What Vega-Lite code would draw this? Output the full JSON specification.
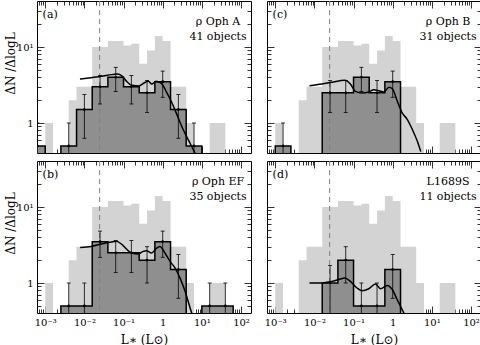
{
"$schema": "https://vega.github.io/schema/vega-lite/v6.json",
"padding": {"left": 3, "top": 0, "right": 0, "bottom": 0},
"background": "white",
"datasets": {
"light": [{"x":0.001,"v":1},{"x":0.001585,"v":0.3},{"x":0.003981,"v":2},{"x":0.00631,"v":3},{"x":0.01585,"v":10},{"x":0.03981,"v":12},{"x":0.1,"v":10.5},{"x":0.1585,"v":11},{"x":0.2512,"v":6},{"x":0.3981,"v":9},{"x":0.631,"v":14},{"x":1,"v":12},{"x":1.585,"v":3},{"x":3.981,"v":1},{"x":6.31,"v":0.3},{"x":15.85,"v":1},{"x":39.81,"v":0.3}],
"dark": [
{"p":"a","i":0,"x":0.000398,"v":0.3},{"p":"a","i":1,"x":0.000398,"v":0.5},{"p":"a","i":2,"x":0.001,"v":0.3},{"p":"a","i":3,"x":0.002512,"v":0.5},{"p":"a","i":4,"x":0.00631,"v":1.5},{"p":"a","i":5,"x":0.01585,"v":3},{"p":"a","i":6,"x":0.03981,"v":4},{"p":"a","i":7,"x":0.1,"v":3},{"p":"a","i":8,"x":0.2512,"v":2.5},{"p":"a","i":9,"x":0.631,"v":3.5},{"p":"a","i":10,"x":1.585,"v":1.5},{"p":"a","i":11,"x":3.981,"v":0.5},{"p":"a","i":12,"x":10,"v":0.3},
{"p":"b","i":0,"x":0.002512,"v":0.3},{"p":"b","i":1,"x":0.002512,"v":0.5},{"p":"b","i":2,"x":0.00631,"v":0.5},{"p":"b","i":3,"x":0.01585,"v":3.5},{"p":"b","i":4,"x":0.03981,"v":2.5},{"p":"b","i":5,"x":0.1,"v":2.5},{"p":"b","i":6,"x":0.2512,"v":2},{"p":"b","i":7,"x":0.631,"v":3.5},{"p":"b","i":8,"x":1.585,"v":1.5},{"p":"b","i":9,"x":3.981,"v":0.3},{"p":"b","i":10,"x":10,"v":0.5},{"p":"b","i":11,"x":25.12,"v":0.5},{"p":"b","i":12,"x":63.1,"v":0.3},
{"p":"c","i":0,"x":0.001,"v":0.3},{"p":"c","i":1,"x":0.001,"v":0.5},{"p":"c","i":2,"x":0.002512,"v":0.3},{"p":"c","i":3,"x":0.01585,"v":2.5},{"p":"c","i":4,"x":0.03981,"v":2.5},{"p":"c","i":5,"x":0.1,"v":4},{"p":"c","i":6,"x":0.2512,"v":2.5},{"p":"c","i":7,"x":0.631,"v":3.5},{"p":"c","i":8,"x":1.585,"v":0.3},
{"p":"d","i":0,"x":0.01585,"v":0.3},{"p":"d","i":1,"x":0.01585,"v":1},{"p":"d","i":2,"x":0.03981,"v":2},{"p":"d","i":3,"x":0.1,"v":0.5},{"p":"d","i":4,"x":0.2512,"v":0.5},{"p":"d","i":5,"x":0.631,"v":1.5},{"p":"d","i":6,"x":1.585,"v":0.3}],
"err": [
{"p":"a","x":0.000631,"v":0.5,"lo":0.05,"hi":1},{"p":"a","x":0.003981,"v":0.5,"lo":0.05,"hi":1},{"p":"a","x":0.01,"v":1.5,"lo":0.63,"hi":2.37},{"p":"a","x":0.02512,"v":3,"lo":1.78,"hi":4.22},{"p":"a","x":0.0631,"v":4,"lo":2.59,"hi":5.41},{"p":"a","x":0.1585,"v":3,"lo":1.78,"hi":4.22},{"p":"a","x":0.3981,"v":2.5,"lo":1.38,"hi":3.62},{"p":"a","x":1,"v":3.5,"lo":2.18,"hi":4.82},{"p":"a","x":2.512,"v":1.5,"lo":0.63,"hi":2.37},{"p":"a","x":6.31,"v":0.5,"lo":0.05,"hi":1},
{"p":"b","x":0.003981,"v":0.5,"lo":0.05,"hi":1},{"p":"b","x":0.01,"v":0.5,"lo":0.05,"hi":1},{"p":"b","x":0.02512,"v":3.5,"lo":2.18,"hi":4.82},{"p":"b","x":0.0631,"v":2.5,"lo":1.38,"hi":3.62},{"p":"b","x":0.1585,"v":2.5,"lo":1.38,"hi":3.62},{"p":"b","x":0.3981,"v":2,"lo":1,"hi":3},{"p":"b","x":1,"v":3.5,"lo":2.18,"hi":4.82},{"p":"b","x":2.512,"v":1.5,"lo":0.63,"hi":2.37},{"p":"b","x":15.85,"v":0.5,"lo":0.05,"hi":1},{"p":"b","x":39.81,"v":0.5,"lo":0.05,"hi":1},
{"p":"c","x":0.001585,"v":0.5,"lo":0.05,"hi":1},{"p":"c","x":0.02512,"v":2.5,"lo":1.38,"hi":3.62},{"p":"c","x":0.0631,"v":2.5,"lo":1.38,"hi":3.62},{"p":"c","x":0.1585,"v":4,"lo":2.59,"hi":5.41},{"p":"c","x":0.3981,"v":2.5,"lo":1.38,"hi":3.62},{"p":"c","x":1,"v":3.5,"lo":2.18,"hi":4.82},
{"p":"d","x":0.02512,"v":1,"lo":0.29,"hi":1.71},{"p":"d","x":0.0631,"v":2,"lo":1,"hi":3},{"p":"d","x":0.1585,"v":0.5,"lo":0.05,"hi":1},{"p":"d","x":0.3981,"v":0.5,"lo":0.05,"hi":1},{"p":"d","x":1,"v":1.5,"lo":0.63,"hi":2.37}],
"curve": [
{"p":"a","x":0.007709,"v":3.79},{"p":"a","x":0.01493,"v":3.95},{"p":"a","x":0.02723,"v":4.11},{"p":"a","x":0.04966,"v":4.33},{"p":"a","x":0.06699,"v":4.41},{"p":"a","x":0.0869,"v":4.24},{"p":"a","x":0.1151,"v":3.61},{"p":"a","x":0.1648,"v":3.13},{"p":"a","x":0.246,"v":3.07},{"p":"a","x":0.3327,"v":3.36},{"p":"a","x":0.4315,"v":3.53},{"p":"a","x":0.5272,"v":3.26},{"p":"a","x":0.6699,"v":3.53},{"p":"a","x":0.9057,"v":3.36},{"p":"a","x":1.222,"v":2.61},{"p":"a","x":1.648,"v":1.93},{"p":"a","x":2.228,"v":1.35},{"p":"a","x":3.327,"v":0.82},{"p":"a","x":4.966,"v":0.545},{"p":"a","x":6.699,"v":0.4},
{"p":"b","x":0.00778,"v":2.94},{"p":"b","x":0.01489,"v":3.03},{"p":"b","x":0.02692,"v":3.26},{"p":"b","x":0.04864,"v":3.46},{"p":"b","x":0.06546,"v":3.53},{"p":"b","x":0.0879,"v":3.26},{"p":"b","x":0.1183,"v":2.8},{"p":"b","x":0.1589,"v":2.48},{"p":"b","x":0.236,"v":2.41},{"p":"b","x":0.317,"v":2.61},{"p":"b","x":0.3864,"v":2.66},{"p":"b","x":0.5188,"v":2.48},{"p":"b","x":0.6982,"v":2.88},{"p":"b","x":0.8492,"v":3.03},{"p":"b","x":1.143,"v":2.48},{"p":"b","x":1.535,"v":1.93},{"p":"b","x":2.065,"v":1.58},{"p":"b","x":2.773,"v":1.16},{"p":"b","x":3.733,"v":0.78},{"p":"b","x":5.012,"v":0.47},{"p":"b","x":5.534,"v":0.4},
{"p":"c","x":0.00748,"v":3.1},{"p":"c","x":0.01552,"v":3.26},{"p":"c","x":0.02805,"v":3.43},{"p":"c","x":0.05929,"v":3.64},{"p":"c","x":0.08299,"v":3.26},{"p":"c","x":0.1114,"v":2.61},{"p":"c","x":0.1652,"v":2.48},{"p":"c","x":0.2455,"v":2.56},{"p":"c","x":0.3296,"v":2.74},{"p":"c","x":0.4436,"v":2.66},{"p":"c","x":0.5957,"v":2.56},{"p":"c","x":0.8017,"v":2.95},{"p":"c","x":0.975,"v":2.83},{"p":"c","x":1.312,"v":1.93},{"p":"c","x":1.762,"v":1.35},{"p":"c","x":2.371,"v":1.11},{"p":"c","x":3.184,"v":0.82},{"p":"c","x":4.285,"v":0.57},{"p":"c","x":5.212,"v":0.42},
{"p":"d","x":0.00748,"v":1},{"p":"d","x":0.01552,"v":1},{"p":"d","x":0.02805,"v":1.05},{"p":"d","x":0.04592,"v":1.13},{"p":"d","x":0.05929,"v":1.16},{"p":"d","x":0.08299,"v":1.05},{"p":"d","x":0.123,"v":0.86},{"p":"d","x":0.1652,"v":0.79},{"p":"d","x":0.2455,"v":0.84},{"p":"d","x":0.3639,"v":0.97},{"p":"d","x":0.4887,"v":0.84},{"p":"d","x":0.7261,"v":0.93},{"p":"d","x":0.975,"v":0.82},{"p":"d","x":1.312,"v":0.6},{"p":"d","x":1.596,"v":0.49},{"p":"d","x":1.945,"v":0.4}],
"cut": [{"L":0.0245}],
"labels": [{"p":"a","tag":"(a)","name":"ρ Oph A","count":"41 objects"},{"p":"b","tag":"(b)","name":"ρ Oph EF","count":"35 objects"},{"p":"c","tag":"(c)","name":"ρ Oph B","count":"31 objects"},{"p":"d","tag":"(d)","name":"L1689S","count":"11 objects"}]
},
"columns": 2,
"spacing": {"row": 6, "column": 12},
"concat": [
{"width":214,"height":152,"layer":[
 {"data":{"name":"light"},"mark":{"type":"area","interpolate":"step-after","color":"#d3d3d3","clip":true},
  "encoding":{"x":{"field":"x","type":"quantitative","scale":{"type":"log","domain":[0.000616,180],"nice":false},
     "axis":{"orient":"bottom","values":[0.0007,0.0008,0.0009,0.001,0.002,0.003,0.004,0.005,0.006,0.007,0.008,0.009,0.01,0.02,0.03,0.04,0.05,0.06,0.07,0.08,0.09,0.1,0.2,0.3,0.4,0.5,0.6,0.7,0.8,0.9,1,2,3,4,5,6,7,8,9,10,20,30,40,50,60,70,80,90,100],"labels":false,"title":null,"tickSize":{"condition":{"test":"abs(log(datum.value)/LN10 - round(log(datum.value)/LN10)) < 0.01","value":-7},"value":-4}}},
   "y":{"field":"v","type":"quantitative","scale":{"type":"log","domain":[0.403,40.3],"nice":false},
     "axis":{"orient":"left","values":[0.5,0.6,0.7,0.8,0.9,1,2,3,4,5,6,7,8,9,10,20,30],"labelExpr":"abs(log(datum.value)/LN10 - round(log(datum.value)/LN10)) > 0.01 ? '' : round(log(datum.value)/LN10) == 0 ? '1' : '10¹'","labelPadding":11,"title":"ΔN /ΔlogL","titleX":-27,"titleY":62,"titleBaseline":"middle","tickSize":{"condition":{"test":"abs(log(datum.value)/LN10 - round(log(datum.value)/LN10)) < 0.01","value":-7},"value":-4}}},
   "y2":{"datum":0.3}}},
 {"data":{"name":"dark"},"transform":[{"filter":"datum.p=='a' && datum.i>0"}],"mark":{"type":"area","interpolate":"step-after","color":"#8f8f8f","clip":true},
  "encoding":{"x":{"field":"x","type":"quantitative","axis":{"orient":"top","values":[0.0007,0.0008,0.0009,0.001,0.002,0.003,0.004,0.005,0.006,0.007,0.008,0.009,0.01,0.02,0.03,0.04,0.05,0.06,0.07,0.08,0.09,0.1,0.2,0.3,0.4,0.5,0.6,0.7,0.8,0.9,1,2,3,4,5,6,7,8,9,10,20,30,40,50,60,70,80,90,100],"labels":false,"title":null,"tickSize":{"condition":{"test":"abs(log(datum.value)/LN10 - round(log(datum.value)/LN10)) < 0.01","value":-7},"value":-4}}},
   "y":{"field":"v","type":"quantitative","axis":{"orient":"right","values":[0.5,0.6,0.7,0.8,0.9,1,2,3,4,5,6,7,8,9,10,20,30],"labels":false,"title":null,"tickSize":{"condition":{"test":"abs(log(datum.value)/LN10 - round(log(datum.value)/LN10)) < 0.01","value":-7},"value":-4}}},
   "y2":{"datum":0.3}}},
 {"data":{"name":"cut"},"mark":{"type":"rule","color":"#7f7f7f","strokeDash":[5,4],"strokeWidth":1},"encoding":{"x":{"field":"L","type":"quantitative","axis":null}}},
 {"data":{"name":"dark"},"transform":[{"filter":"datum.p=='a'"}],"mark":{"type":"line","interpolate":"step-after","color":"black","strokeWidth":1.5,"clip":true},"encoding":{"x":{"field":"x","type":"quantitative","axis":null},"y":{"field":"v","type":"quantitative","axis":null},"order":{"field":"i","type":"quantitative"}}},
 {"data":{"name":"err"},"transform":[{"filter":"datum.p=='a'"}],"mark":{"type":"rule","color":"black","strokeWidth":0.8,"clip":true},"encoding":{"x":{"field":"x","type":"quantitative","axis":null},"y":{"field":"lo","type":"quantitative","axis":null},"y2":{"field":"hi"}}},
 {"data":{"name":"err"},"transform":[{"filter":"datum.p=='a'"}],"mark":{"type":"tick","orient":"horizontal","size":4,"thickness":0.8,"color":"black","opacity":1,"clip":true},"encoding":{"x":{"field":"x","type":"quantitative","axis":null},"y":{"field":"lo","type":"quantitative","axis":null}}},
 {"data":{"name":"err"},"transform":[{"filter":"datum.p=='a'"}],"mark":{"type":"tick","orient":"horizontal","size":4,"thickness":0.8,"color":"black","opacity":1,"clip":true},"encoding":{"x":{"field":"x","type":"quantitative","axis":null},"y":{"field":"hi","type":"quantitative","axis":null}}},
 {"data":{"name":"err"},"transform":[{"filter":"datum.p=='a'"}],"mark":{"type":"circle","size":7,"color":"black","opacity":1,"clip":true},"encoding":{"x":{"field":"x","type":"quantitative","axis":null},"y":{"field":"v","type":"quantitative","axis":null}}},
 {"data":{"name":"curve"},"transform":[{"filter":"datum.p=='a'"}],"mark":{"type":"line","interpolate":"monotone","color":"black","strokeWidth":1.5,"clip":true},"encoding":{"x":{"field":"x","type":"quantitative","axis":null},"y":{"field":"v","type":"quantitative","axis":null}}},
 {"data":{"name":"labels"},"transform":[{"filter":"datum.p=='a'"}],"mark":{"type":"text","align":"left","baseline":"middle","fontSize":11,"font":"DejaVu Serif","color":"black"},"encoding":{"x":{"datum":0.000857,"type":"quantitative","axis":null},"y":{"datum":26.5,"type":"quantitative","axis":null},"text":{"field":"tag"}}},
 {"data":{"name":"labels"},"transform":[{"filter":"datum.p=='a'"}],"mark":{"type":"text","align":"center","baseline":"middle","fontSize":11,"font":"DejaVu Serif","color":"black"},"encoding":{"x":{"datum":25.9,"type":"quantitative","axis":null},"y":{"datum":21.5,"type":"quantitative","axis":null},"text":{"field":"name"}}},
 {"data":{"name":"labels"},"transform":[{"filter":"datum.p=='a'"}],"mark":{"type":"text","align":"center","baseline":"middle","fontSize":11,"font":"DejaVu Serif","color":"black"},"encoding":{"x":{"datum":25.9,"type":"quantitative","axis":null},"y":{"datum":13.4,"type":"quantitative","axis":null},"text":{"field":"count"}}}
]},
{"width":214,"height":152,"layer":[
 {"data":{"name":"light"},"mark":{"type":"area","interpolate":"step-after","color":"#d3d3d3","clip":true},
  "encoding":{"x":{"field":"x","type":"quantitative","scale":{"type":"log","domain":[0.000616,180],"nice":false},
     "axis":{"orient":"bottom","values":[0.0007,0.0008,0.0009,0.001,0.002,0.003,0.004,0.005,0.006,0.007,0.008,0.009,0.01,0.02,0.03,0.04,0.05,0.06,0.07,0.08,0.09,0.1,0.2,0.3,0.4,0.5,0.6,0.7,0.8,0.9,1,2,3,4,5,6,7,8,9,10,20,30,40,50,60,70,80,90,100],"labels":false,"title":null,"tickSize":{"condition":{"test":"abs(log(datum.value)/LN10 - round(log(datum.value)/LN10)) < 0.01","value":-7},"value":-4}}},
   "y":{"field":"v","type":"quantitative","scale":{"type":"log","domain":[0.403,40.3],"nice":false},
     "axis":{"orient":"left","values":[0.5,0.6,0.7,0.8,0.9,1,2,3,4,5,6,7,8,9,10,20,30],"labels":false,"title":null,"tickSize":{"condition":{"test":"abs(log(datum.value)/LN10 - round(log(datum.value)/LN10)) < 0.01","value":-7},"value":-4}}},
   "y2":{"datum":0.3}}},
 {"data":{"name":"dark"},"transform":[{"filter":"datum.p=='c' && datum.i>0"}],"mark":{"type":"area","interpolate":"step-after","color":"#8f8f8f","clip":true},
  "encoding":{"x":{"field":"x","type":"quantitative","axis":{"orient":"top","values":[0.0007,0.0008,0.0009,0.001,0.002,0.003,0.004,0.005,0.006,0.007,0.008,0.009,0.01,0.02,0.03,0.04,0.05,0.06,0.07,0.08,0.09,0.1,0.2,0.3,0.4,0.5,0.6,0.7,0.8,0.9,1,2,3,4,5,6,7,8,9,10,20,30,40,50,60,70,80,90,100],"labels":false,"title":null,"tickSize":{"condition":{"test":"abs(log(datum.value)/LN10 - round(log(datum.value)/LN10)) < 0.01","value":-7},"value":-4}}},
   "y":{"field":"v","type":"quantitative","axis":{"orient":"right","values":[0.5,0.6,0.7,0.8,0.9,1,2,3,4,5,6,7,8,9,10,20,30],"labels":false,"title":null,"tickSize":{"condition":{"test":"abs(log(datum.value)/LN10 - round(log(datum.value)/LN10)) < 0.01","value":-7},"value":-4}}},
   "y2":{"datum":0.3}}},
 {"data":{"name":"cut"},"mark":{"type":"rule","color":"#7f7f7f","strokeDash":[5,4],"strokeWidth":1},"encoding":{"x":{"field":"L","type":"quantitative","axis":null}}},
 {"data":{"name":"dark"},"transform":[{"filter":"datum.p=='c'"}],"mark":{"type":"line","interpolate":"step-after","color":"black","strokeWidth":1.5,"clip":true},"encoding":{"x":{"field":"x","type":"quantitative","axis":null},"y":{"field":"v","type":"quantitative","axis":null},"order":{"field":"i","type":"quantitative"}}},
 {"data":{"name":"err"},"transform":[{"filter":"datum.p=='c'"}],"mark":{"type":"rule","color":"black","strokeWidth":0.8,"clip":true},"encoding":{"x":{"field":"x","type":"quantitative","axis":null},"y":{"field":"lo","type":"quantitative","axis":null},"y2":{"field":"hi"}}},
 {"data":{"name":"err"},"transform":[{"filter":"datum.p=='c'"}],"mark":{"type":"tick","orient":"horizontal","size":4,"thickness":0.8,"color":"black","opacity":1,"clip":true},"encoding":{"x":{"field":"x","type":"quantitative","axis":null},"y":{"field":"lo","type":"quantitative","axis":null}}},
 {"data":{"name":"err"},"transform":[{"filter":"datum.p=='c'"}],"mark":{"type":"tick","orient":"horizontal","size":4,"thickness":0.8,"color":"black","opacity":1,"clip":true},"encoding":{"x":{"field":"x","type":"quantitative","axis":null},"y":{"field":"hi","type":"quantitative","axis":null}}},
 {"data":{"name":"err"},"transform":[{"filter":"datum.p=='c'"}],"mark":{"type":"circle","size":7,"color":"black","opacity":1,"clip":true},"encoding":{"x":{"field":"x","type":"quantitative","axis":null},"y":{"field":"v","type":"quantitative","axis":null}}},
 {"data":{"name":"curve"},"transform":[{"filter":"datum.p=='c'"}],"mark":{"type":"line","interpolate":"monotone","color":"black","strokeWidth":1.5,"clip":true},"encoding":{"x":{"field":"x","type":"quantitative","axis":null},"y":{"field":"v","type":"quantitative","axis":null}}},
 {"data":{"name":"labels"},"transform":[{"filter":"datum.p=='c'"}],"mark":{"type":"text","align":"left","baseline":"middle","fontSize":11,"font":"DejaVu Serif","color":"black"},"encoding":{"x":{"datum":0.000857,"type":"quantitative","axis":null},"y":{"datum":26.5,"type":"quantitative","axis":null},"text":{"field":"tag"}}},
 {"data":{"name":"labels"},"transform":[{"filter":"datum.p=='c'"}],"mark":{"type":"text","align":"center","baseline":"middle","fontSize":11,"font":"DejaVu Serif","color":"black"},"encoding":{"x":{"datum":25.9,"type":"quantitative","axis":null},"y":{"datum":21.5,"type":"quantitative","axis":null},"text":{"field":"name"}}},
 {"data":{"name":"labels"},"transform":[{"filter":"datum.p=='c'"}],"mark":{"type":"text","align":"center","baseline":"middle","fontSize":11,"font":"DejaVu Serif","color":"black"},"encoding":{"x":{"datum":25.9,"type":"quantitative","axis":null},"y":{"datum":13.4,"type":"quantitative","axis":null},"text":{"field":"count"}}}
]},
{"width":214,"height":152,"layer":[
 {"data":{"name":"light"},"mark":{"type":"area","interpolate":"step-after","color":"#d3d3d3","clip":true},
  "encoding":{"x":{"field":"x","type":"quantitative","scale":{"type":"log","domain":[0.000616,180],"nice":false},
     "axis":{"orient":"bottom","values":[0.0007,0.0008,0.0009,0.001,0.002,0.003,0.004,0.005,0.006,0.007,0.008,0.009,0.01,0.02,0.03,0.04,0.05,0.06,0.07,0.08,0.09,0.1,0.2,0.3,0.4,0.5,0.6,0.7,0.8,0.9,1,2,3,4,5,6,7,8,9,10,20,30,40,50,60,70,80,90,100],"labelExpr":"abs(log(datum.value)/LN10 - round(log(datum.value)/LN10)) > 0.01 ? '' : round(log(datum.value)/LN10) == 0 ? '1' : round(log(datum.value)/LN10) == 1 ? '10¹' : round(log(datum.value)/LN10) == 2 ? '10²' : round(log(datum.value)/LN10) == -1 ? '10⁻¹' : round(log(datum.value)/LN10) == -2 ? '10⁻²' : '10⁻³'","labelPadding":11,"title":"L∗ (L⊙)","titlePadding":4,"tickSize":{"condition":{"test":"abs(log(datum.value)/LN10 - round(log(datum.value)/LN10)) < 0.01","value":-7},"value":-4}}},
   "y":{"field":"v","type":"quantitative","scale":{"type":"log","domain":[0.403,40.3],"nice":false},
     "axis":{"orient":"left","values":[0.5,0.6,0.7,0.8,0.9,1,2,3,4,5,6,7,8,9,10,20,30],"labelExpr":"abs(log(datum.value)/LN10 - round(log(datum.value)/LN10)) > 0.01 ? '' : round(log(datum.value)/LN10) == 0 ? '1' : '10¹'","labelPadding":11,"title":"ΔN /ΔlogL","titleX":-27,"titleY":62,"titleBaseline":"middle","tickSize":{"condition":{"test":"abs(log(datum.value)/LN10 - round(log(datum.value)/LN10)) < 0.01","value":-7},"value":-4}}},
   "y2":{"datum":0.3}}},
 {"data":{"name":"dark"},"transform":[{"filter":"datum.p=='b' && datum.i>0"}],"mark":{"type":"area","interpolate":"step-after","color":"#8f8f8f","clip":true},
  "encoding":{"x":{"field":"x","type":"quantitative","axis":{"orient":"top","values":[0.0007,0.0008,0.0009,0.001,0.002,0.003,0.004,0.005,0.006,0.007,0.008,0.009,0.01,0.02,0.03,0.04,0.05,0.06,0.07,0.08,0.09,0.1,0.2,0.3,0.4,0.5,0.6,0.7,0.8,0.9,1,2,3,4,5,6,7,8,9,10,20,30,40,50,60,70,80,90,100],"labels":false,"title":null,"tickSize":{"condition":{"test":"abs(log(datum.value)/LN10 - round(log(datum.value)/LN10)) < 0.01","value":-7},"value":-4}}},
   "y":{"field":"v","type":"quantitative","axis":{"orient":"right","values":[0.5,0.6,0.7,0.8,0.9,1,2,3,4,5,6,7,8,9,10,20,30],"labels":false,"title":null,"tickSize":{"condition":{"test":"abs(log(datum.value)/LN10 - round(log(datum.value)/LN10)) < 0.01","value":-7},"value":-4}}},
   "y2":{"datum":0.3}}},
 {"data":{"name":"cut"},"mark":{"type":"rule","color":"#7f7f7f","strokeDash":[5,4],"strokeWidth":1},"encoding":{"x":{"field":"L","type":"quantitative","axis":null}}},
 {"data":{"name":"dark"},"transform":[{"filter":"datum.p=='b'"}],"mark":{"type":"line","interpolate":"step-after","color":"black","strokeWidth":1.5,"clip":true},"encoding":{"x":{"field":"x","type":"quantitative","axis":null},"y":{"field":"v","type":"quantitative","axis":null},"order":{"field":"i","type":"quantitative"}}},
 {"data":{"name":"err"},"transform":[{"filter":"datum.p=='b'"}],"mark":{"type":"rule","color":"black","strokeWidth":0.8,"clip":true},"encoding":{"x":{"field":"x","type":"quantitative","axis":null},"y":{"field":"lo","type":"quantitative","axis":null},"y2":{"field":"hi"}}},
 {"data":{"name":"err"},"transform":[{"filter":"datum.p=='b'"}],"mark":{"type":"tick","orient":"horizontal","size":4,"thickness":0.8,"color":"black","opacity":1,"clip":true},"encoding":{"x":{"field":"x","type":"quantitative","axis":null},"y":{"field":"lo","type":"quantitative","axis":null}}},
 {"data":{"name":"err"},"transform":[{"filter":"datum.p=='b'"}],"mark":{"type":"tick","orient":"horizontal","size":4,"thickness":0.8,"color":"black","opacity":1,"clip":true},"encoding":{"x":{"field":"x","type":"quantitative","axis":null},"y":{"field":"hi","type":"quantitative","axis":null}}},
 {"data":{"name":"err"},"transform":[{"filter":"datum.p=='b'"}],"mark":{"type":"circle","size":7,"color":"black","opacity":1,"clip":true},"encoding":{"x":{"field":"x","type":"quantitative","axis":null},"y":{"field":"v","type":"quantitative","axis":null}}},
 {"data":{"name":"curve"},"transform":[{"filter":"datum.p=='b'"}],"mark":{"type":"line","interpolate":"monotone","color":"black","strokeWidth":1.5,"clip":true},"encoding":{"x":{"field":"x","type":"quantitative","axis":null},"y":{"field":"v","type":"quantitative","axis":null}}},
 {"data":{"name":"labels"},"transform":[{"filter":"datum.p=='b'"}],"mark":{"type":"text","align":"left","baseline":"middle","fontSize":11,"font":"DejaVu Serif","color":"black"},"encoding":{"x":{"datum":0.000857,"type":"quantitative","axis":null},"y":{"datum":26.5,"type":"quantitative","axis":null},"text":{"field":"tag"}}},
 {"data":{"name":"labels"},"transform":[{"filter":"datum.p=='b'"}],"mark":{"type":"text","align":"center","baseline":"middle","fontSize":11,"font":"DejaVu Serif","color":"black"},"encoding":{"x":{"datum":25.9,"type":"quantitative","axis":null},"y":{"datum":21.5,"type":"quantitative","axis":null},"text":{"field":"name"}}},
 {"data":{"name":"labels"},"transform":[{"filter":"datum.p=='b'"}],"mark":{"type":"text","align":"center","baseline":"middle","fontSize":11,"font":"DejaVu Serif","color":"black"},"encoding":{"x":{"datum":25.9,"type":"quantitative","axis":null},"y":{"datum":13.4,"type":"quantitative","axis":null},"text":{"field":"count"}}}
]},
{"width":214,"height":152,"layer":[
 {"data":{"name":"light"},"mark":{"type":"area","interpolate":"step-after","color":"#d3d3d3","clip":true},
  "encoding":{"x":{"field":"x","type":"quantitative","scale":{"type":"log","domain":[0.000616,180],"nice":false},
     "axis":{"orient":"bottom","values":[0.0007,0.0008,0.0009,0.001,0.002,0.003,0.004,0.005,0.006,0.007,0.008,0.009,0.01,0.02,0.03,0.04,0.05,0.06,0.07,0.08,0.09,0.1,0.2,0.3,0.4,0.5,0.6,0.7,0.8,0.9,1,2,3,4,5,6,7,8,9,10,20,30,40,50,60,70,80,90,100],"labelExpr":"abs(log(datum.value)/LN10 - round(log(datum.value)/LN10)) > 0.01 ? '' : round(log(datum.value)/LN10) == 0 ? '1' : round(log(datum.value)/LN10) == 1 ? '10¹' : round(log(datum.value)/LN10) == 2 ? '10²' : round(log(datum.value)/LN10) == -1 ? '10⁻¹' : round(log(datum.value)/LN10) == -2 ? '10⁻²' : '10⁻³'","labelPadding":11,"title":"L∗ (L⊙)","titlePadding":4,"tickSize":{"condition":{"test":"abs(log(datum.value)/LN10 - round(log(datum.value)/LN10)) < 0.01","value":-7},"value":-4}}},
   "y":{"field":"v","type":"quantitative","scale":{"type":"log","domain":[0.403,40.3],"nice":false},
     "axis":{"orient":"left","values":[0.5,0.6,0.7,0.8,0.9,1,2,3,4,5,6,7,8,9,10,20,30],"labels":false,"title":null,"tickSize":{"condition":{"test":"abs(log(datum.value)/LN10 - round(log(datum.value)/LN10)) < 0.01","value":-7},"value":-4}}},
   "y2":{"datum":0.3}}},
 {"data":{"name":"dark"},"transform":[{"filter":"datum.p=='d' && datum.i>0"}],"mark":{"type":"area","interpolate":"step-after","color":"#8f8f8f","clip":true},
  "encoding":{"x":{"field":"x","type":"quantitative","axis":{"orient":"top","values":[0.0007,0.0008,0.0009,0.001,0.002,0.003,0.004,0.005,0.006,0.007,0.008,0.009,0.01,0.02,0.03,0.04,0.05,0.06,0.07,0.08,0.09,0.1,0.2,0.3,0.4,0.5,0.6,0.7,0.8,0.9,1,2,3,4,5,6,7,8,9,10,20,30,40,50,60,70,80,90,100],"labels":false,"title":null,"tickSize":{"condition":{"test":"abs(log(datum.value)/LN10 - round(log(datum.value)/LN10)) < 0.01","value":-7},"value":-4}}},
   "y":{"field":"v","type":"quantitative","axis":{"orient":"right","values":[0.5,0.6,0.7,0.8,0.9,1,2,3,4,5,6,7,8,9,10,20,30],"labels":false,"title":null,"tickSize":{"condition":{"test":"abs(log(datum.value)/LN10 - round(log(datum.value)/LN10)) < 0.01","value":-7},"value":-4}}},
   "y2":{"datum":0.3}}},
 {"data":{"name":"cut"},"mark":{"type":"rule","color":"#7f7f7f","strokeDash":[5,4],"strokeWidth":1},"encoding":{"x":{"field":"L","type":"quantitative","axis":null}}},
 {"data":{"name":"dark"},"transform":[{"filter":"datum.p=='d'"}],"mark":{"type":"line","interpolate":"step-after","color":"black","strokeWidth":1.5,"clip":true},"encoding":{"x":{"field":"x","type":"quantitative","axis":null},"y":{"field":"v","type":"quantitative","axis":null},"order":{"field":"i","type":"quantitative"}}},
 {"data":{"name":"err"},"transform":[{"filter":"datum.p=='d'"}],"mark":{"type":"rule","color":"black","strokeWidth":0.8,"clip":true},"encoding":{"x":{"field":"x","type":"quantitative","axis":null},"y":{"field":"lo","type":"quantitative","axis":null},"y2":{"field":"hi"}}},
 {"data":{"name":"err"},"transform":[{"filter":"datum.p=='d'"}],"mark":{"type":"tick","orient":"horizontal","size":4,"thickness":0.8,"color":"black","opacity":1,"clip":true},"encoding":{"x":{"field":"x","type":"quantitative","axis":null},"y":{"field":"lo","type":"quantitative","axis":null}}},
 {"data":{"name":"err"},"transform":[{"filter":"datum.p=='d'"}],"mark":{"type":"tick","orient":"horizontal","size":4,"thickness":0.8,"color":"black","opacity":1,"clip":true},"encoding":{"x":{"field":"x","type":"quantitative","axis":null},"y":{"field":"hi","type":"quantitative","axis":null}}},
 {"data":{"name":"err"},"transform":[{"filter":"datum.p=='d'"}],"mark":{"type":"circle","size":7,"color":"black","opacity":1,"clip":true},"encoding":{"x":{"field":"x","type":"quantitative","axis":null},"y":{"field":"v","type":"quantitative","axis":null}}},
 {"data":{"name":"curve"},"transform":[{"filter":"datum.p=='d'"}],"mark":{"type":"line","interpolate":"monotone","color":"black","strokeWidth":1.5,"clip":true},"encoding":{"x":{"field":"x","type":"quantitative","axis":null},"y":{"field":"v","type":"quantitative","axis":null}}},
 {"data":{"name":"labels"},"transform":[{"filter":"datum.p=='d'"}],"mark":{"type":"text","align":"left","baseline":"middle","fontSize":11,"font":"DejaVu Serif","color":"black"},"encoding":{"x":{"datum":0.000857,"type":"quantitative","axis":null},"y":{"datum":26.5,"type":"quantitative","axis":null},"text":{"field":"tag"}}},
 {"data":{"name":"labels"},"transform":[{"filter":"datum.p=='d'"}],"mark":{"type":"text","align":"center","baseline":"middle","fontSize":11,"font":"DejaVu Serif","color":"black"},"encoding":{"x":{"datum":25.9,"type":"quantitative","axis":null},"y":{"datum":21.5,"type":"quantitative","axis":null},"text":{"field":"name"}}},
 {"data":{"name":"labels"},"transform":[{"filter":"datum.p=='d'"}],"mark":{"type":"text","align":"center","baseline":"middle","fontSize":11,"font":"DejaVu Serif","color":"black"},"encoding":{"x":{"datum":25.9,"type":"quantitative","axis":null},"y":{"datum":13.4,"type":"quantitative","axis":null},"text":{"field":"count"}}}
]}
],
"config": {
 "view": {"stroke": null},
 "font": "DejaVu Serif",
 "axis": {"domainColor":"black","domainWidth":1,"tickColor":"black","tickWidth":0.8,"grid":false,"labelFont":"DejaVu Serif","labelFontSize":10,"labelColor":"black","titleFont":"DejaVu Serif","titleFontSize":12,"titleFontWeight":"normal","titleColor":"black","labelOverlap":false,"labelFlush":false,"labelBound":false}
}
}
